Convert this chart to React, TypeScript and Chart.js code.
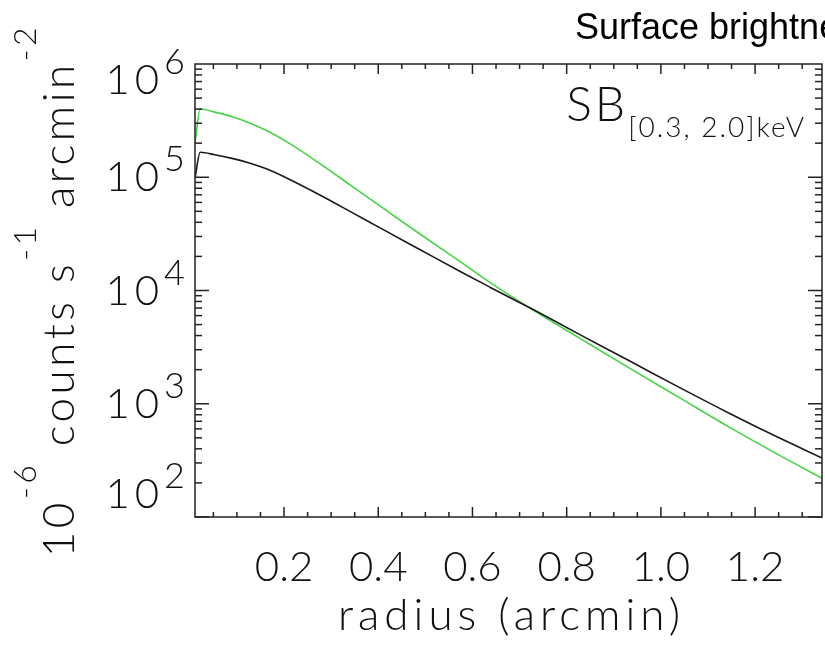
import React, { useEffect, useRef } from "react";
import { Chart, registerables } from "chart.js";

Chart.register(...registerables);

// ---- data ----
const radius = [0.011, 0.022, 0.053, 0.092, 0.128, 0.164, 0.213, 0.276, 0.34, 0.404, 0.489, 0.574, 0.637, 0.733, 0.828, 0.935, 1.041, 1.147, 1.253, 1.342];
const sbBlack = [9.8e4, 1.66e5, 1.58e5, 1.46e5, 1.33e5, 1.18e5, 9.5e4, 6.97e4, 5.0e4, 3.57e4, 2.29e4, 1.47e4, 1.07e4, 6.65e3, 4.08e3, 2.37e3, 1.38e3, 817, 495, 332];
const sbGreen = [2.0e5, 4.0e5, 3.76e5, 3.4e5, 3.0e5, 2.57e5, 1.97e5, 1.32e5, 8.57e4, 5.55e4, 3.14e4, 1.8e4, 1.18e4, 6.55e3, 3.78e3, 2.04e3, 1.12e3, 615, 348, 220];
const xTickValues = [0.2, 0.4, 0.6, 0.8, 1.0, 1.2];
const xTickLabels = ["0.2", "0.4", "0.6", "0.8", "1.0", "1.2"];
const yDecades = [2, 3, 4, 5, 6];
const xRange = [0.011, 1.342];
const yRange = [100, 1e6];
const titleText = "Surface brightness";
const xTitle = "radius (arcmin)";
const legendMain = "SB";
const legendSub = "[0.3, 2.0]keV";

const FONT = '"Lato", "DejaVu Sans", sans-serif';

const decorPlugin = {
  id: "decor",
  afterDraw(chart: any) {
    const { ctx } = chart;
    const { left, right, top, bottom } = chart.chartArea;
    const xs = chart.scales.x;
    const ys = chart.scales.y;
    ctx.save();
    ctx.strokeStyle = "#222";
    ctx.lineWidth = 1.5;
    ctx.strokeRect(left, top, right - left, bottom - top);
    const line = (x1: number, y1: number, x2: number, y2: number) => {
      ctx.beginPath();
      ctx.moveTo(x1, y1);
      ctx.lineTo(x2, y2);
      ctx.stroke();
    };
    // x ticks (inward, bottom and top)
    for (let i = 1; i * 0.05 <= xs.max + 1e-9; i++) {
      const v = i * 0.05;
      const px = xs.getPixelForValue(v);
      if (px < left || px > right) continue;
      const len = i % 4 === 0 ? 10 : 5;
      line(px, bottom, px, bottom - len);
      line(px, top, px, top + len);
    }
    // y ticks (inward, left and right)
    for (let d = yDecades[0]; d < yDecades[yDecades.length - 1]; d++) {
      for (let m = 1; m <= 9; m++) {
        const py = ys.getPixelForValue(m * Math.pow(10, d));
        const len = m === 1 ? 14 : 7;
        line(left, py, left + len, py);
        line(right, py, right - len, py);
      }
    }
    ctx.fillStyle = "#111";
    ctx.textBaseline = "alphabetic";
    ctx.textAlign = "left";
    // y tick labels 10^n
    for (const e of yDecades) {
      const py = ys.getPixelForValue(Math.pow(10, e));
      const base = Math.min(Math.max(py + 14, top + 30), bottom - 9);
      ctx.letterSpacing = "5px";
      ctx.font = `300 42px ${FONT}`;
      const w1 = ctx.measureText("10").width;
      ctx.font = `300 36px ${FONT}`;
      const sup = String(e);
      const w2 = ctx.measureText(sup).width;
      const x0 = 190 - w1 - w2;
      ctx.font = `300 42px ${FONT}`;
      ctx.fillText("10", x0, base);
      ctx.font = `300 36px ${FONT}`;
      ctx.fillText(sup, x0 + w1, base - 20);
    }
    // x axis title
    ctx.letterSpacing = "5px";
    ctx.font = `300 44px ${FONT}`;
    ctx.textAlign = "center";
    ctx.fillText(xTitle, (left + right) / 2 + 3, 630);
    // y axis title (rotated)
    ctx.letterSpacing = "3.5px";
    const parts: [string, boolean][] = [["10", false], ["-6", true], [" counts s", false], ["-1", true], [" arcmin", false], ["-2", true]];
    const fontOf = (s: boolean) => (s ? `300 32px ${FONT}` : `300 44px ${FONT}`);
    let total = 0;
    for (const [t, s] of parts) {
      ctx.font = fontOf(s);
      total += ctx.measureText(t).width;
    }
    ctx.translate(74, (top + bottom) / 2);
    ctx.rotate(-Math.PI / 2);
    ctx.textAlign = "left";
    let cx = -total / 2;
    for (const [t, s] of parts) {
      ctx.font = fontOf(s);
      ctx.fillText(t, cx, s ? -38 : 0);
      cx += ctx.measureText(t).width;
    }
    ctx.setTransform(1, 0, 0, 1, 0, 0);
    // legend label SB_[0.3, 2.0]keV
    ctx.letterSpacing = "2px";
    ctx.font = `300 28px ${FONT}`;
    const ws = ctx.measureText(legendSub).width;
    ctx.letterSpacing = "3px";
    ctx.font = `300 48px ${FONT}`;
    const wm = ctx.measureText(legendMain).width;
    const lx = 806 - ws - wm;
    ctx.fillText(legendMain, lx, 121);
    ctx.letterSpacing = "2px";
    ctx.font = `300 28px ${FONT}`;
    ctx.fillText(legendSub, lx + wm, 137);
    // title (cut off at the right edge)
    ctx.letterSpacing = "0px";
    ctx.font = `36px "Liberation Sans", Arial, sans-serif`;
    ctx.fillStyle = "#000";
    ctx.fillText(titleText, 575, 39);
    ctx.restore();
  },
};

export default function App() {
  const ref = useRef<HTMLCanvasElement | null>(null);
  useEffect(() => {
    document.body.style.margin = "0";
    const canvas = ref.current!;
    const chart = new Chart(canvas, {
      type: "line",
      data: {
        datasets: [
          {
            label: "black",
            data: radius.map((r, i) => ({ x: r, y: sbBlack[i] })),
            borderColor: "#1a1a1a",
            borderWidth: 1.6,
            pointRadius: 0,
            cubicInterpolationMode: "monotone",
          },
          {
            label: "green",
            data: radius.map((r, i) => ({ x: r, y: sbGreen[i] })),
            borderColor: "#45d445",
            borderWidth: 1.6,
            pointRadius: 0,
            cubicInterpolationMode: "monotone",
          },
        ],
      },
      options: {
        responsive: false,
        animation: false,
        events: [],
        layout: { padding: { top: 64, right: 3, left: 0, bottom: 0 } },
        plugins: { legend: { display: false }, tooltip: { enabled: false }, title: { display: false } },
        scales: {
          x: {
            type: "linear",
            min: xRange[0],
            max: xRange[1],
            grid: { display: false, drawTicks: false },
            border: { display: false },
            afterBuildTicks: (scale: any) => {
              scale.ticks = xTickValues.map((v) => ({ value: v }));
            },
            afterFit: (scale: any) => {
              scale.height = 128;
            },
            ticks: {
              autoSkip: false,
              maxRotation: 0,
              padding: 25,
              color: "#111",
              font: { family: FONT, size: 42, weight: "300" as any },
              callback: (v: any) => {
                const i = xTickValues.findIndex((t) => Math.abs(t - Number(v)) < 1e-9);
                return i >= 0 ? xTickLabels[i] : "";
              },
            },
          },
          y: {
            type: "logarithmic",
            min: yRange[0],
            max: yRange[1],
            grid: { display: false, drawTicks: false },
            border: { display: false },
            ticks: { display: false },
            afterFit: (scale: any) => {
              scale.width = 195;
            },
          },
        },
      },
      plugins: [decorPlugin],
    });
    return () => chart.destroy();
  }, []);
  return (
    <div style={{ position: "relative", width: 825, height: 645 }}>
      <canvas ref={ref} width={825} height={645} style={{ display: "block" }} />
    </div>
  );
}
